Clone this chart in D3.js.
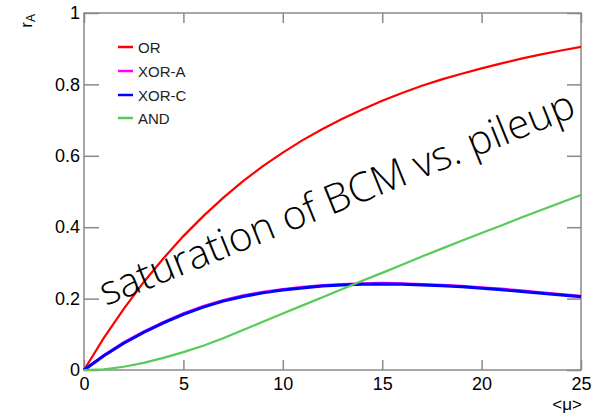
<!DOCTYPE html>
<html>
<head>
<meta charset="utf-8">
<script src="https://cdn.jsdelivr.net/npm/d3@7"></script>
<style>
  body { margin: 0; background: #fff; }
</style>
</head>
<body>
<div class="content"></div>
<script>
// values
const mu = [0, 1, 2, 3, 4, 5, 6, 7, 8, 9, 10, 11, 12, 13, 14, 15, 16, 17, 18, 19, 20, 21, 22, 23, 24, 25]
const orVals = [0, 0.090, 0.171, 0.246, 0.313, 0.375, 0.431, 0.482, 0.529, 0.571, 0.609, 0.644, 0.675, 0.704, 0.730, 0.754, 0.776, 0.796, 0.814, 0.830, 0.845, 0.859, 0.872, 0.884, 0.895, 0.905]
const xorAVals = [0, 0.041, 0.077, 0.107, 0.134, 0.158, 0.178, 0.195, 0.208, 0.218, 0.226, 0.232, 0.237, 0.240, 0.242, 0.243, 0.242, 0.240, 0.238, 0.235, 0.231, 0.227, 0.222, 0.217, 0.212, 0.207]
const xorCVals = [0, 0.040, 0.075, 0.105, 0.132, 0.156, 0.176, 0.193, 0.206, 0.216, 0.224, 0.230, 0.235, 0.238, 0.240, 0.241, 0.240, 0.238, 0.236, 0.233, 0.229, 0.225, 0.220, 0.215, 0.210, 0.205]
const andVals = [0, 0.002, 0.009, 0.020, 0.034, 0.050, 0.068, 0.089, 0.112, 0.135, 0.158, 0.181, 0.204, 0.227, 0.250, 0.272, 0.295, 0.318, 0.340, 0.362, 0.384, 0.405, 0.427, 0.448, 0.469, 0.490]
const seriesNames = ['OR', 'XOR-A', 'XOR-C', 'AND']
const xTicks = [0, 5, 10, 15, 20, 25]
const yTicks = [0, 0.2, 0.4, 0.6, 0.8, 1]

const width = 597
const height = 416
const plotLeft = 84, plotRight = 581, plotTop = 13, plotBottom = 370
const frameColor = '#8a8a8a'

const x = d3.scaleLinear().domain([0, 25]).range([plotLeft, plotRight])
const y = d3.scaleLinear().domain([0, 1]).range([plotBottom, plotTop])

const svg = d3.select('div.content')
    .append('svg')
    .attr('width', width)
    .attr('height', height)
    .style('font-family', '"Liberation Sans", Arial, sans-serif')

svg.append('rect').attr('width', width).attr('height', height).attr('fill', '#fff')

// frame
svg.append('rect')
    .attr('x', plotLeft).attr('y', plotTop)
    .attr('width', plotRight - plotLeft).attr('height', plotBottom - plotTop)
    .attr('fill', 'none')
    .attr('stroke', frameColor)
    .attr('stroke-width', 1.5)

// axes, ticks point inward
const fmt = d => d === 0 ? '0' : (d === 1 ? '1' : d3.format('.1f')(d))
svg.append('g').attr('transform', `translate(0,${plotBottom})`)
    .call(d3.axisBottom(x).tickValues(xTicks).tickSize(-10).tickPadding(7).tickFormat(d3.format('d')))
svg.append('g').attr('transform', `translate(0,${plotTop})`)
    .call(d3.axisTop(x).tickValues(xTicks).tickSize(-10).tickFormat(''))
svg.append('g').attr('transform', `translate(${plotLeft},0)`)
    .call(d3.axisLeft(y).tickValues(yTicks).tickSize(-15).tickPadding(4).tickFormat(fmt))
svg.append('g').attr('transform', `translate(${plotRight},0)`)
    .call(d3.axisRight(y).tickValues(yTicks).tickSize(-14).tickFormat(''))

svg.selectAll('.domain').remove()
svg.selectAll('.tick line').attr('stroke', frameColor).attr('stroke-width', 1.5)
svg.selectAll('.tick text')
    .attr('fill', '#000')
    .style('font-size', '18px')
    .style('font-family', '"Liberation Sans", Arial, sans-serif')

// axis titles
const yTitle = svg.append('text')
    .attr('transform', 'translate(32,14) rotate(-90)')
    .attr('text-anchor', 'end')
    .attr('fill', '#000')
    .style('font-size', '17px')
yTitle.append('tspan').text('r')
yTitle.append('tspan').attr('dy', 3).style('font-size', '12px').text('A')

svg.append('text')
    .attr('x', 582).attr('y', 410)
    .attr('text-anchor', 'end')
    .attr('fill', '#000')
    .style('font-size', '17px')
    .text('<μ>')

// curves
const line = vals => d3.line()
    .x((d, i) => x(mu[i]))
    .y(d => y(d))(vals)

const curves = [
    { vals: orVals, color: '#ff0000', w: 2.2 },
    { vals: xorAVals, color: '#ff00ff', w: 2.8 },
    { vals: xorCVals, color: '#0000ff', w: 3 },
    { vals: andVals, color: '#55cc55', w: 2.2 }
]
curves.forEach(c => {
    svg.append('path')
        .attr('d', line(c.vals))
        .attr('fill', 'none')
        .attr('stroke', c.color)
        .attr('stroke-width', c.w)
})

// legend
const legendY = [47, 71, 95, 118]
seriesNames.forEach((name, i) => {
    svg.append('line')
        .attr('x1', 118).attr('x2', 133)
        .attr('y1', legendY[i]).attr('y2', legendY[i])
        .attr('stroke', curves[i].color)
        .attr('stroke-width', 2.5)
    svg.append('text')
        .attr('x', 138).attr('y', legendY[i] + 5.5)
        .attr('fill', '#222')
        .style('font-size', '15px')
        .text(name)
})

// big annotation across the plot
const note = svg.append('text')
    .attr('transform', 'translate(106,306) rotate(-22)')
    .attr('fill', '#000')
    .style('font-family', '"Open Sans", "DejaVu Sans", sans-serif')
    .style('font-weight', 300)
    .style('font-size', '38px')
    .text('saturation of BCM vs. pileup')
const len = note.node().getComputedTextLength()
note.style('font-size', (38 * 509 / len) + 'px')
</script>
</body>
</html>
